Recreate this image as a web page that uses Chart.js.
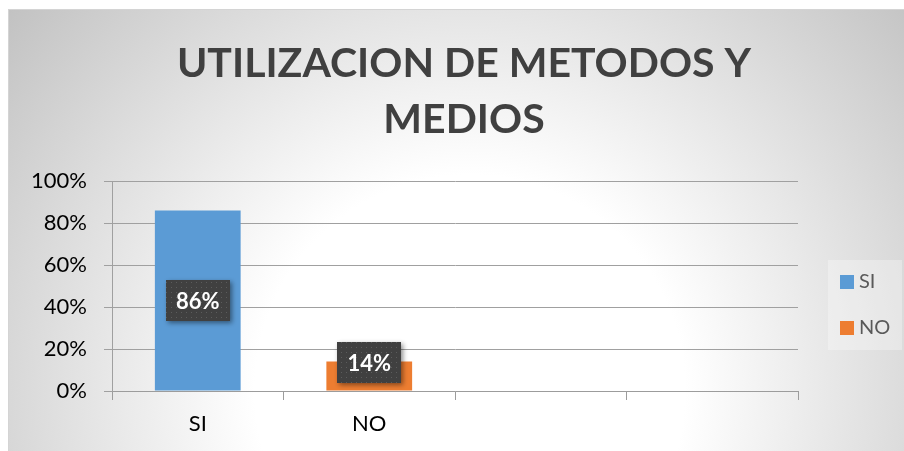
<!DOCTYPE html>
<html>
<head>
<meta charset="utf-8">
<script src="https://cdn.jsdelivr.net/npm/chart.js@4"></script>
<style>
    html, body { margin: 0; padding: 0; background: #fff; }
    #wrap {
        position: absolute; left: 8px; top: 9px;
        width: 895px; height: 441px;
        border: 1px solid #d4d4d4;
        background: radial-gradient(circle farthest-corner at 461px 380px, #ffffff 0%, #ffffff 36%, #c2c2c2 100%);
    }
</style>
</head>
<body>
<div id="wrap"><canvas id="chart" width="895" height="441"></canvas></div>
<script>
const titleLines = ['UTILIZACION DE METODOS Y', 'MEDIOS'];
const categories = ['SI', 'NO', '', ''];
const values = [0.86, 0.14, null, null];
const barColors = ['#5B9BD5', '#ED7D31', '#5B9BD5', '#5B9BD5'];
const yMax = 1;
const yStep = 0.2;

const fontFamily = 'Lato, "Open Sans", sans-serif';

function pct(v) { return Math.round(v * 100) + '%'; }

// dotted dark fill for the value boxes
function dotPattern(ctx) {
    const c = document.createElement('canvas');
    c.width = 5; c.height = 5;
    const p = c.getContext('2d');
    p.fillStyle = '#404040';
    p.fillRect(0, 0, 5, 5);
    p.fillStyle = '#5c5c5c';
    p.fillRect(2, 2, 1, 1);
    return ctx.createPattern(c, 'repeat');
}

const valueLabels = {
    id: 'valueLabels',
    afterDatasetsDraw(chart) {
        const ctx = chart.ctx;
        const meta = chart.getDatasetMeta(0);
        const fill = dotPattern(ctx);
        meta.data.forEach((bar, i) => {
            const v = values[i];
            if (v == null) return;
            const w = 64, h = 41;
            const barH = bar.base - bar.y;
            const cy = barH > h ? bar.y + barH / 2 : bar.y + 1;
            ctx.save();
            ctx.shadowColor = 'rgba(0,0,0,0.45)';
            ctx.shadowBlur = 5;
            ctx.shadowOffsetX = 2;
            ctx.shadowOffsetY = 2;
            ctx.fillStyle = fill;
            ctx.fillRect(Math.round(bar.x - w / 2), Math.round(cy - h / 2), w, h);
            ctx.restore();
            ctx.save();
            ctx.fillStyle = '#ffffff';
            ctx.font = 'bold 22px ' + fontFamily;
            ctx.textAlign = 'center';
            ctx.textBaseline = 'middle';
            ctx.fillText(pct(v), bar.x, cy + 1);
            ctx.restore();
        });
    }
};

const sideLegend = {
    id: 'sideLegend',
    afterDraw(chart) {
        const ctx = chart.ctx;
        ctx.save();
        ctx.fillStyle = 'rgba(255,255,255,0.3)';
        ctx.fillRect(819, 250, 74, 90);
        const names = chart.data.labels.filter(l => l !== '');
        names.forEach((name, i) => {
            const y = 265 + i * 46;
            ctx.fillStyle = chart.data.datasets[0].backgroundColor[i];
            ctx.fillRect(831, y, 14, 14);
            ctx.fillStyle = '#595959';
            ctx.font = '20px ' + fontFamily;
            ctx.textBaseline = 'middle';
            ctx.textAlign = 'left';
            ctx.fillText(name, 850, y + 7);
        });
        ctx.restore();
    }
};

new Chart(document.getElementById('chart'), {
    type: 'bar',
    data: {
        labels: categories,
        datasets: [{
            label: 'Serie 1',
            data: values,
            backgroundColor: barColors,
            barPercentage: 0.5,
            categoryPercentage: 1.0
        }]
    },
    options: {
        responsive: false,
        animation: false,
        layout: { padding: { left: 15, right: 0, top: 0, bottom: 0 } },
        plugins: {
            legend: { display: false },
            tooltip: { enabled: false },
            title: {
                display: true,
                text: titleLines,
                color: '#404040',
                font: { family: fontFamily, size: 41, weight: 'bold', lineHeight: 1.38 },
                padding: { top: 25, bottom: 33 }
            }
        },
        scales: {
            x: {
                grid: {
                    offset: true,
                    drawOnChartArea: false,
                    tickLength: 9,
                    color: '#9c9c9c'
                },
                border: { color: '#9c9c9c' },
                ticks: {
                    color: '#000000',
                    font: { family: fontFamily, size: 22 },
                    padding: 11
                },
                afterFit(scale) { scale.height = 60; }
            },
            y: {
                min: 0,
                max: yMax,
                ticks: {
                    stepSize: yStep,
                    color: '#000000',
                    font: { family: fontFamily, size: 22 },
                    padding: 17,
                    callback: v => pct(v)
                },
                grid: { color: '#a0a0a0', tickLength: 8 },
                border: { color: '#a0a0a0' },
                afterFit(scale) { scale.width = 88; }
            },
            spare: {
                position: 'right',
                min: 0,
                max: 1,
                ticks: { display: false },
                grid: { display: false },
                border: { display: false },
                afterFit(scale) { scale.width = 106; }
            }
        }
    },
    plugins: [valueLabels, sideLegend]
});
</script>
</body>
</html>
